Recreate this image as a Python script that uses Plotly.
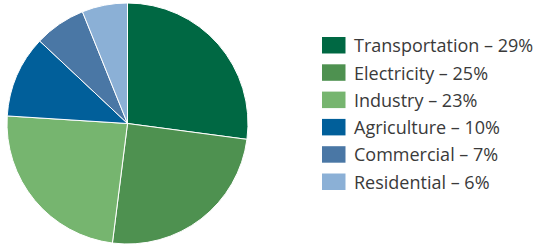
import plotly.graph_objects as go

categories = ["Transportation", "Electricity", "Industry", "Agriculture", "Commercial", "Residential"]
# slice sizes as drawn in the picture
slice_values = [27.1, 24.9, 24.0, 11.0, 6.9, 6.1]
# percentages printed in the legend
label_pct = [29, 25, 23, 10, 7, 6]
colors = ["#006843", "#4E9150", "#76B56F", "#015F9A", "#4A77A5", "#8BB0D6"]

W, H = 535, 246
fig = go.Figure()
fig.add_trace(go.Pie(
    labels=categories, values=slice_values, sort=False, direction="clockwise", rotation=0,
    marker=dict(colors=colors, line=dict(color="white", width=1)),
    textinfo="none", hoverinfo="label", showlegend=False,
    domain=dict(x=[7/W, 248/W], y=[2/H, 1 - 3/H]),
))

# custom legend
x0, y_first, step = 322, 37, 27.3
sw, sh = 23.5, 16.5
for i, (c, p, col) in enumerate(zip(categories, label_pct, colors)):
    yt = y_first + i * step
    fig.add_shape(type="rect", xref="paper", yref="paper",
                  x0=x0/W, x1=(x0+sw)/W, y0=1-(yt+sh)/H, y1=1-yt/H,
                  fillcolor=col, line=dict(width=0))
    fig.add_annotation(xref="paper", yref="paper", x=(x0+sw+6)/W, y=1-(yt+sh/2)/H,
                       text=f"{c} \u2013 {p}%", showarrow=False, xanchor="left", yanchor="middle",
                       font=dict(family="Open Sans", size=18, color="#3a3a3a"))

fig.update_layout(width=W, height=H, margin=dict(l=0, r=0, t=0, b=0),
                  paper_bgcolor="white", plot_bgcolor="white")
fig.write_html("out.html", config={"displayModeBar": False},
               post_script="document.body.style.margin='0';")
